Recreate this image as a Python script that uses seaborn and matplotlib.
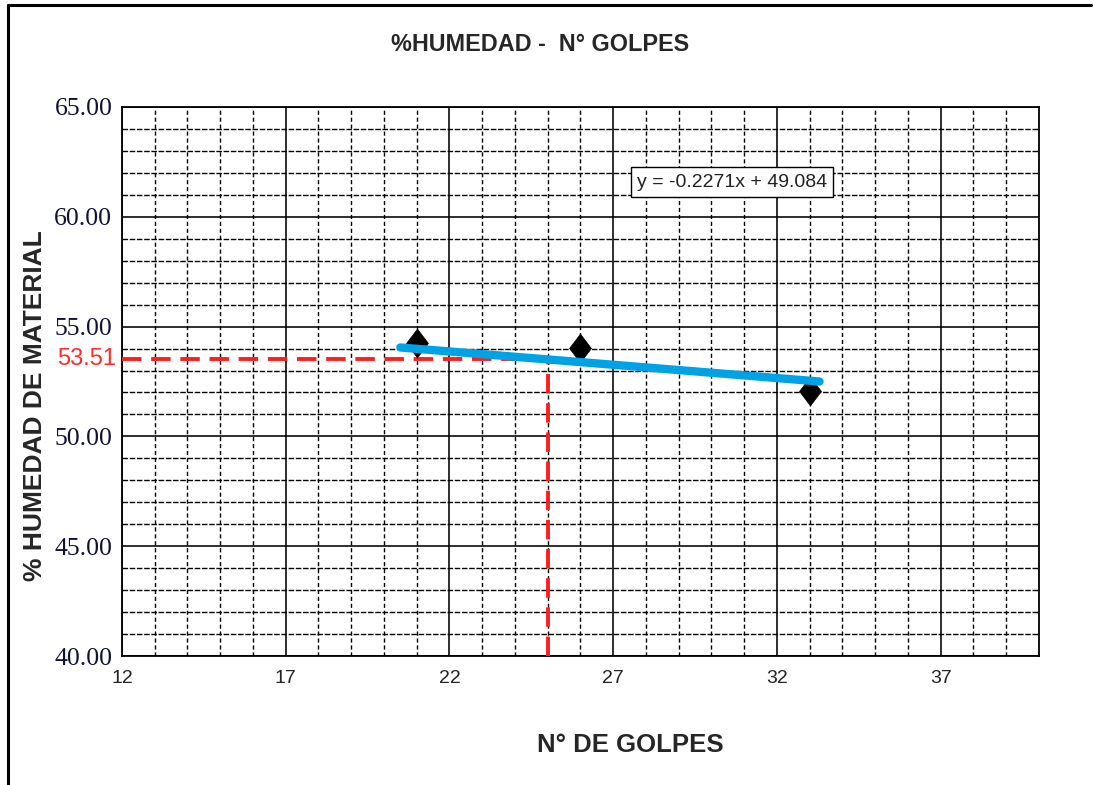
import numpy as np
import matplotlib
matplotlib.use("Agg")
import matplotlib.pyplot as plt
from matplotlib.lines import Line2D
from matplotlib.path import Path
import matplotlib.transforms as mtransforms
import seaborn as sns
import pandas as pd

# Measured blow counts and moisture content
golpes = [21, 26, 33]
humedad = [54.25, 54.03, 52.05]

# Trend line (ends of the fitted segment)
trend_x = [20.5, 33.3]
trend_y = [54.05, 52.50]

# Moisture at 25 blows
x_ref = 25
y_ref = 53.51

ecuacion = "y = -0.2271x + 49.084"
x_ticks = [12, 17, 22, 27, 32, 37]
y_ticks = [40, 45, 50, 55, 60, 65]

sns.set_style("white")
plt.rcParams['font.family'] = ['Liberation Sans', 'DejaVu Sans']

fig = plt.figure(figsize=(10.94, 7.85), dpi=100)
ax = fig.add_axes([0.1115, 0.1643, 0.8382, 0.6994])

ax.set_xlim(12, 40)
ax.set_ylim(40, 65)

# grid: solid every 5, dashed every 1
ax.set_xticks(x_ticks)
ax.set_yticks(y_ticks)
ax.set_xticks(np.arange(12, 41, 1), minor=True)
ax.set_yticks(np.arange(40, 66, 1), minor=True)
ax.grid(which='major', color='black', linewidth=1.15, linestyle='-', zorder=0)
ax.grid(which='minor', axis='x', color='black', linewidth=1.0, linestyle=(0, (3, 2)), zorder=0)
ax.grid(which='minor', axis='y', color='black', linewidth=1.0, linestyle=(0, (4, 1.2)), zorder=0)
ax.set_axisbelow(True)
for s in ax.spines.values():
    s.set_color('black')
    s.set_linewidth(1.3)

ax.set_xticklabels([str(v) for v in x_ticks])
ax.set_yticklabels([f"{v:.2f}" for v in y_ticks])
ax.tick_params(which='minor', length=0)
ax.tick_params(which='major', axis='x', direction='out', length=6, width=1.2,
               pad=4, color='black')
ax.tick_params(which='major', axis='y', direction='out', length=6, width=1.2,
               pad=1, color='black')
for lab in ax.get_xticklabels():
    lab.set_fontsize(14)
    lab.set_color('#222222')
for lab in ax.get_yticklabels():
    lab.set_fontfamily('Liberation Serif')
    lab.set_fontsize(18.5)
    lab.set_color('#111133')

# reference lines at 25 blows
ax.plot([12, x_ref], [y_ref, y_ref], color='#ff1e1e', linewidth=2.8,
        linestyle=(0, (5, 2.5)), zorder=3, clip_on=False)
ax.plot([x_ref, x_ref], [40, y_ref], color='#ff1e1e', linewidth=2.8,
        linestyle=(0, (5, 2.5)), zorder=3, clip_on=False)

# data points: diamond markers slightly taller than wide
diamante = Path([(0, 1), (0.76, 0), (0, -1), (-0.76, 0), (0, 1)],
                [Path.MOVETO, Path.LINETO, Path.LINETO, Path.LINETO, Path.CLOSEPOLY])
df = pd.DataFrame({'golpes': golpes, 'humedad': humedad})
sns.scatterplot(data=df, x='golpes', y='humedad', marker=diamante, s=430,
                color='black', edgecolor='black', linewidth=0.5, ax=ax, zorder=4)
sns.lineplot(x=trend_x, y=trend_y, color='#00a2e6', linewidth=6.0,
             ax=ax, zorder=5)

offset = mtransforms.offset_copy(ax.transData, fig=fig, x=-6, y=0, units='dots')
ax.text(12, y_ref, f"{y_ref:.2f}", color='#ff2a2a', fontsize=17,
        fontfamily='Liberation Sans', ha='right', va='center',
        transform=offset, clip_on=False)

ax.text(30.63, 61.58, ecuacion, fontsize=14, ha='center', va='center',
        color='#222222',
        bbox=dict(boxstyle='square,pad=0.32', facecolor='white',
                  edgecolor='black', linewidth=1.0), zorder=6)

ax.set_xlabel('')
ax.set_ylabel('')
fig.text(0.494, 0.943, "%HUMEDAD -  N° GOLPES", fontsize=16.8, fontweight='bold',
         ha='center', va='center')
fig.text(0.576, 0.051, "N° DE GOLPES", fontsize=18.5, fontweight='bold',
         ha='center', va='center')
fig.text(0.032, 0.483, "% HUMEDAD DE MATERIAL", fontsize=19, fontweight='bold',
         ha='center', va='center', rotation=90)

# frame on the left and top of the figure
fig.add_artist(Line2D([0.0075, 0.0075], [0.0, 0.994], color='black', linewidth=2.2,
                      transform=fig.transFigure))
fig.add_artist(Line2D([0.0075, 0.997], [0.994, 0.994], color='black', linewidth=2.2,
                      transform=fig.transFigure))

fig.savefig("out.png", dpi=100)
